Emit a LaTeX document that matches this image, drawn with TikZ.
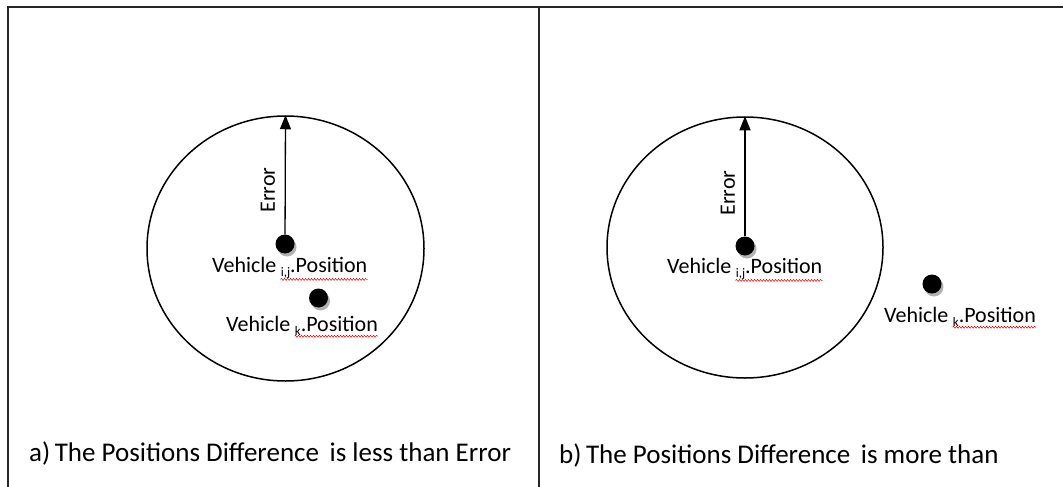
\documentclass[tikz,border=0pt]{standalone}
\usepackage{fontspec}
\setmainfont{Carlito}
\usetikzlibrary{arrows.meta,shapes.geometric,decorations.pathmorphing}
\begin{document}
\begin{tikzpicture}[x=1pt,y=-1pt,
  frame/.style={line width=2pt,draw=black!85},
  ring/.style={ellipse,draw,line width=1.5pt,inner sep=0pt},
  dot/.style={circle,fill=black,inner sep=0pt,minimum size=19pt},
  shadowdot/.style={circle,fill=black!30,inner sep=0pt,minimum size=19pt},
  radius arrow/.style={line width=1.3pt,-{Triangle[length=14pt,width=11pt]}},
  lbl/.style={font=\fontsize{22}{26}\selectfont,inner sep=0pt},
  caption/.style={font=\fontsize{27}{31}\selectfont,inner sep=0pt,anchor=base west},
  spell/.style={red,line width=0.5pt,decorate,decoration={snake,amplitude=1pt,segment length=3pt}}
]
\useasboundingbox (0,0) rectangle (1063,487);
\fill[white] (0,0) rectangle (1063,487);
% frame
\coordinate (tl) at (8,7);
\coordinate (tr) at (1063,7);
\coordinate (bl) at (8,487);
\coordinate (mt) at (539,7);
\coordinate (mb) at (539,487);
\draw[frame] (bl) -- (tl) -- (tr);
\draw[frame] (mt) -- (mb);

\newcommand{\sub}[1]{{\fontsize{13}{13}\selectfont\raisebox{-4pt}{#1}}}

% ---------- panel a ----------
\node[ring,minimum width=277pt,minimum height=265pt] (ca) at (285.5,248.5) {};
\node[shadowdot] at (287,247) {};
\node[dot] (a1) at (285,244) {};
\node[shadowdot] at (320.5,301) {};
\node[dot] (a2) at (318.5,298) {};
\draw[radius arrow] (a1) -- (ca.north);
\node[lbl,rotate=90] (ea) at (268,190) {Error};
\node[lbl,anchor=base west] (a1v) at (212,272) {Vehicle};
\node[lbl,anchor=base west] (a1p) at ([xshift=4pt]a1v.base east) {\sub{i,j}.Position};
\draw[spell] ([yshift=-1pt]a1p.south west) -- ([yshift=-1pt]a1p.south east);
\node[lbl,anchor=base west] (a2v) at (226,331) {Vehicle};
\node[lbl,anchor=base west] (a2p) at ([xshift=4pt]a2v.base east) {\sub{k}.Position};
\draw[spell] ([yshift=-1pt]a2p.south west) -- ([yshift=-1pt]a2p.south east);
\node[caption] (capa) at (29,461) {a)\,The Positions Difference\, is less than Error};

% ---------- panel b ----------
\node[ring,minimum width=276pt,minimum height=261pt] (cb) at (745,247.5) {};
\node[shadowdot] at (747,249) {};
\node[dot] (b1) at (745,246) {};
\node[shadowdot] at (934,287) {};
\node[dot] (b2) at (932,284) {};
\draw[radius arrow] (b1) -- (cb.north);
\node[lbl,rotate=90] (eb) at (728,193) {Error};
\node[lbl,anchor=base west] (b1v) at (667,273) {Vehicle};
\node[lbl,anchor=base west] (b1p) at ([xshift=4pt]b1v.base east) {\sub{i,j}.Position};
\draw[spell] ([yshift=-1pt]b1p.south west) -- ([yshift=-1pt]b1p.south east);
\node[lbl,anchor=base west] (b2v) at (884,322) {Vehicle};
\node[lbl,anchor=base west] (b2p) at ([xshift=4pt]b2v.base east) {\sub{k}.Position};
\draw[spell] ([yshift=-1pt]b2p.south west) -- ([yshift=-1pt]b2p.south east);
\node[caption] (capb) at (559,463) {b)\,The Positions Difference\, is more than};
\end{tikzpicture}
\end{document}
